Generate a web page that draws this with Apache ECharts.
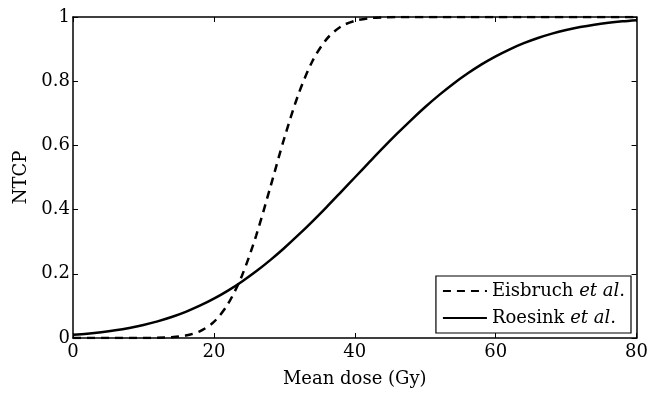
<!DOCTYPE html>
<html>
<head>
<meta charset="utf-8">
<script src="https://cdn.jsdelivr.net/npm/echarts@6/dist/echarts.min.js"></script>
<style>html,body{margin:0;padding:0;background:#fff}#c{width:651px;height:393px}</style>
</head>
<body>
<div id="c"></div>
<script>
// Mean dose (Gy)
const dose = [0,2,4,6,8,10,12,14,16,18,20,22,24,26,28,30,32,34,36,38,40,42,44,46,48,50,52,54,56,58,60,62,64,66,68,70,72,74,76,78,80];
// Eisbruch et al. NTCP
const eisbruch = [0,0,0,0.00001,0.00003,0.0002,0.0007,0.0024,0.0076,0.021,0.05,0.106,0.195,0.319,0.469,0.623,0.759,0.863,0.931,0.97,0.988,0.996,0.999,1,1,1,1,1,1,1,1,1,1,1,1,1,1,1,1,1,1];
// Roesink et al. NTCP
const roesink = [0.010,0.0136,0.0182,0.024,0.0314,0.0406,0.0518,0.0653,0.0815,0.1005,0.1225,0.1476,0.1762,0.2078,0.2427,0.2805,0.321,0.3636,0.408,0.4538,0.5,0.5462,0.592,0.6364,0.679,0.7195,0.7573,0.7922,0.8238,0.8524,0.8775,0.8995,0.9185,0.9347,0.9482,0.9594,0.9686,0.976,0.9818,0.9864,0.99];
const xTicks = [0,20,40,60,80];
const yTicks = [0,0.2,0.4,0.6,0.8,1];
const seriesNames = ['Eisbruch', 'Roesink'];

const FONT = 'DejaVu Serif';
const FS = 18;
const chart = echarts.init(document.getElementById('c'), null, {renderer: 'canvas'});
const pairs = arr => dose.map((d, i) => [d, arr[i]]);
const axisBase = {
  axisLine: {show: true, onZero: false, lineStyle: {color: '#000', width: 1.5}},
  axisTick: {show: true, inside: true, length: 5, lineStyle: {color: '#000', width: 1}},
  splitLine: {show: false}
};
chart.setOption({
  animation: false,
  backgroundColor: '#fff',
  textStyle: {fontFamily: FONT},
  grid: {left: 73, right: 14, top: 17, bottom: 55},
  xAxis: [
    Object.assign({}, axisBase, {
      type: 'value', min: xTicks[0], max: xTicks[xTicks.length-1], interval: 20, position: 'bottom',
      name: 'Mean dose (Gy)', nameLocation: 'middle', nameGap: 32,
      nameTextStyle: {fontFamily: FONT, fontSize: FS, color: '#000'},
      axisLabel: {fontFamily: FONT, fontSize: FS, color: '#000', margin: 5}
    }),
    Object.assign({}, axisBase, {
      type: 'value', min: xTicks[0], max: xTicks[xTicks.length-1], interval: 20, position: 'top',
      axisLabel: {show: false}
    })
  ],
  yAxis: [
    Object.assign({}, axisBase, {
      type: 'value', min: yTicks[0], max: yTicks[yTicks.length-1], interval: 0.2, position: 'left',
      name: 'NTCP', nameLocation: 'middle', nameGap: 42,
      nameTextStyle: {fontFamily: FONT, fontSize: FS, color: '#000'},
      axisLabel: {fontFamily: FONT, fontSize: FS, color: '#000', margin: 3}
    }),
    Object.assign({}, axisBase, {
      type: 'value', min: yTicks[0], max: yTicks[yTicks.length-1], interval: 0.2, position: 'right',
      axisLabel: {show: false}
    })
  ],
  legend: {
    orient: 'vertical', right: 20, bottom: 60,
    backgroundColor: '#fff', borderColor: '#000', borderWidth: 1.2, borderRadius: 0,
    padding: [6, 6, 6, 6], itemGap: 9, itemWidth: 44, itemHeight: 14,
    itemStyle: {opacity: 0},
    data: seriesNames,
    formatter: n => n + ' {i|et al}.',
    textStyle: {fontFamily: FONT, fontSize: FS, color: '#000',
      rich: {i: {fontFamily: FONT, fontStyle: 'italic', fontSize: FS, color: '#000'}}}
  },
  series: [
    {name: seriesNames[0], type: 'line', data: pairs(eisbruch), smooth: 0.3, showSymbol: false, symbol: 'none',
     lineStyle: {color: '#000', width: 2.5, type: [8, 6]}, itemStyle: {color: '#000'}},
    {name: seriesNames[1], type: 'line', data: pairs(roesink), smooth: 0.3, showSymbol: false, symbol: 'none',
     lineStyle: {color: '#000', width: 2.5, type: 'solid'}, itemStyle: {color: '#000'}}
  ]
});
</script>
</body>
</html>
